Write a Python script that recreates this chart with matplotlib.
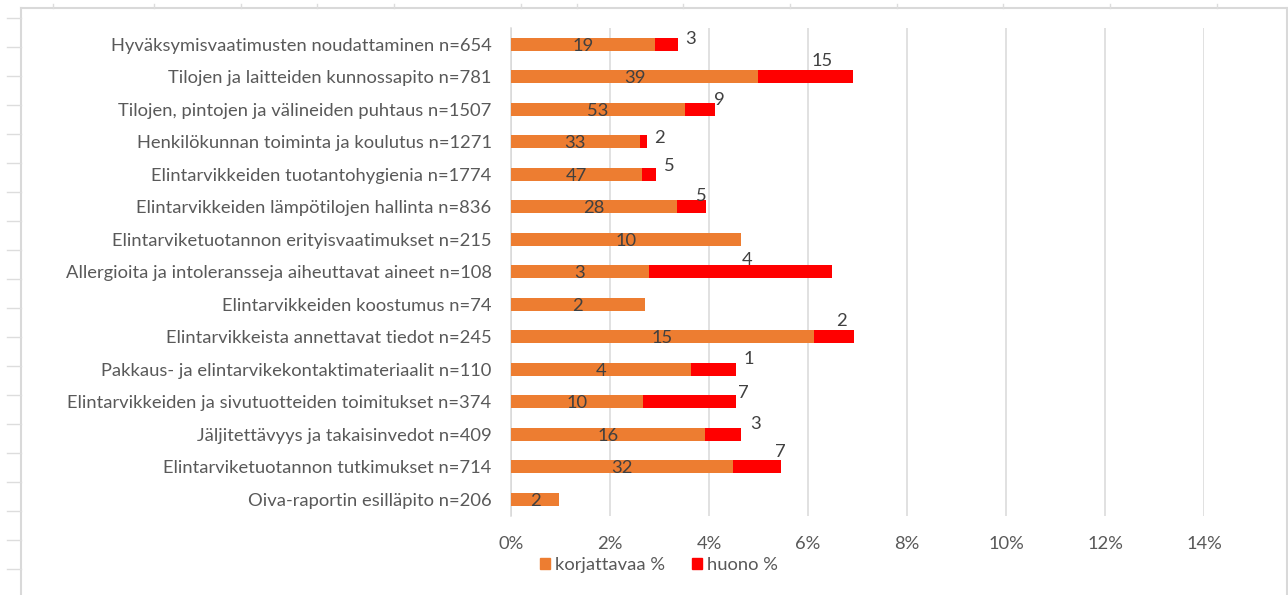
import numpy as np
import matplotlib.pyplot as plt
from matplotlib.lines import Line2D
from matplotlib.patches import Patch
from matplotlib.ticker import PercentFormatter

plt.rcParams['font.family'] = ['Lato', 'DejaVu Sans']

# inspection topics and number of inspected items in each
topics = [
    "Hyväksymisvaatimusten noudattaminen",
    "Tilojen ja laitteiden kunnossapito",
    "Tilojen, pintojen ja välineiden puhtaus",
    "Henkilökunnan toiminta ja koulutus",
    "Elintarvikkeiden tuotantohygienia",
    "Elintarvikkeiden lämpötilojen hallinta",
    "Elintarviketuotannon erityisvaatimukset",
    "Allergioita ja intoleransseja aiheuttavat aineet",
    "Elintarvikkeiden koostumus",
    "Elintarvikkeista annettavat tiedot",
    "Pakkaus- ja elintarvikekontaktimateriaalit",
    "Elintarvikkeiden ja sivutuotteiden toimitukset",
    "Jäljitettävyys ja takaisinvedot",
    "Elintarviketuotannon tutkimukset",
    "Oiva-raportin esilläpito",
]
n_items = [654, 781, 1507, 1271, 1774, 836, 215, 108, 74, 245, 110, 374, 409, 714, 206]
korjattavaa = [19, 39, 53, 33, 47, 28, 10, 3, 2, 15, 4, 10, 16, 32, 2]
huono = [3, 15, 9, 2, 5, 5, 0, 4, 0, 2, 1, 7, 3, 7, 0]

# hand-placed positions of the "huono" labels (pixels from the bar end)
huono_label_offsets = [(13, -5), (-31, -16), (5, -9), (12, -4), (13, -8), (-5, -11), None,
                       (-85, -12), None, (-13, -16), (13, -10), (7, -9), (15, -10), (-1, -15), None]

ORANGE = "#ED7D31"
RED = "#FF0000"
GRID = "#D9D9D9"
TEXT = "#595959"
LABEL = "#404040"
FS = 13.2

W, H, DPI = 1288, 595, 100


def fx(px):
    return px / W


def fy(py):
    return 1 - py / H


n = np.array(n_items)
pct_k = np.array(korjattavaa) / n * 100
pct_h = np.array(huono) / n * 100
ypos = np.arange(len(topics))
ylabels = [f"{t} n={c}" for t, c in zip(topics, n_items)]

fig = plt.figure(figsize=(W / DPI, H / DPI), dpi=DPI)
ax = fig.add_axes([fx(511), fy(515.5), fx(1204) - fx(511), fy(28) - fy(515.5)])

bars_k = ax.barh(ypos, pct_k, height=0.39, color=ORANGE, zorder=3)
bars_h = ax.barh(ypos, pct_h, left=pct_k, height=0.39, color=RED, zorder=3)

ax.set_xlim(0, 14)
ax.set_ylim(len(topics) - 0.5, -0.5)
ax.set_xticks(np.arange(0, 15, 2))
ax.xaxis.set_major_formatter(PercentFormatter(decimals=0))
ax.set_yticks(ypos)
ax.set_yticklabels(ylabels)
ax.tick_params(axis='x', length=0, pad=15, labelsize=FS, labelcolor=TEXT)
ax.tick_params(axis='y', length=0, pad=14, labelsize=FS, labelcolor=TEXT)
ax.grid(axis='x', color=GRID, linewidth=1.1, zorder=0)
for side in ['top', 'right', 'bottom']:
    ax.spines[side].set_visible(False)
ax.spines['left'].set_color(GRID)
ax.spines['left'].set_linewidth(1.1)

# count labels
for i, (b, c) in enumerate(zip(bars_k, korjattavaa)):
    ax.annotate(str(c), (b.get_x() + b.get_width() / 2, i), xytext=(0, -1),
                textcoords='offset points', ha='center', va='center',
                fontsize=FS, color=LABEL, zorder=4)
for i, (b, c) in enumerate(zip(bars_h, huono)):
    off = huono_label_offsets[i]
    if c == 0 or off is None:
        continue
    ax.annotate(str(c), (b.get_x() + b.get_width(), i),
                xytext=(off[0] * 0.72, -off[1] * 0.72), textcoords='offset points',
                ha='center', va='center', fontsize=FS, color=LABEL, zorder=4)

handles = [Patch(color=ORANGE, label="korjattavaa %"), Patch(color=RED, label="huono %")]
fig.legend(handles=handles, loc='center', bbox_to_anchor=(fx(659), fy(565)), ncol=2,
           frameon=False, fontsize=FS, labelcolor=TEXT, handlelength=0.55,
           handleheight=0.55, handletextpad=0.25, columnspacing=1.5)

# chart area border and the sheet cells behind it
border = dict(color="#D9D9D9", linewidth=1.5, transform=fig.transFigure)
fig.add_artist(Line2D([fx(21), fx(21)], [fy(8), 0], **border))
fig.add_artist(Line2D([fx(21), fx(1287)], [fy(8), fy(8)], **border))
fig.add_artist(Line2D([fx(1287), fx(1287)], [fy(8), 0], **border))
cell = dict(color="#DDDDDD", linewidth=1.0, transform=fig.transFigure)
for row_y in np.arange(18.3, H, 29):
    fig.add_artist(Line2D([fx(7), fx(21)], [fy(row_y), fy(row_y)], **cell))
for col_x in [53, 154, 241, 317, 394, 521, 577, 683, 790, 897, 1003, 1110, 1217]:
    fig.add_artist(Line2D([fx(col_x), fx(col_x)], [fy(4), fy(8)], **cell))

fig.savefig("out.png", dpi=DPI, facecolor="white")
